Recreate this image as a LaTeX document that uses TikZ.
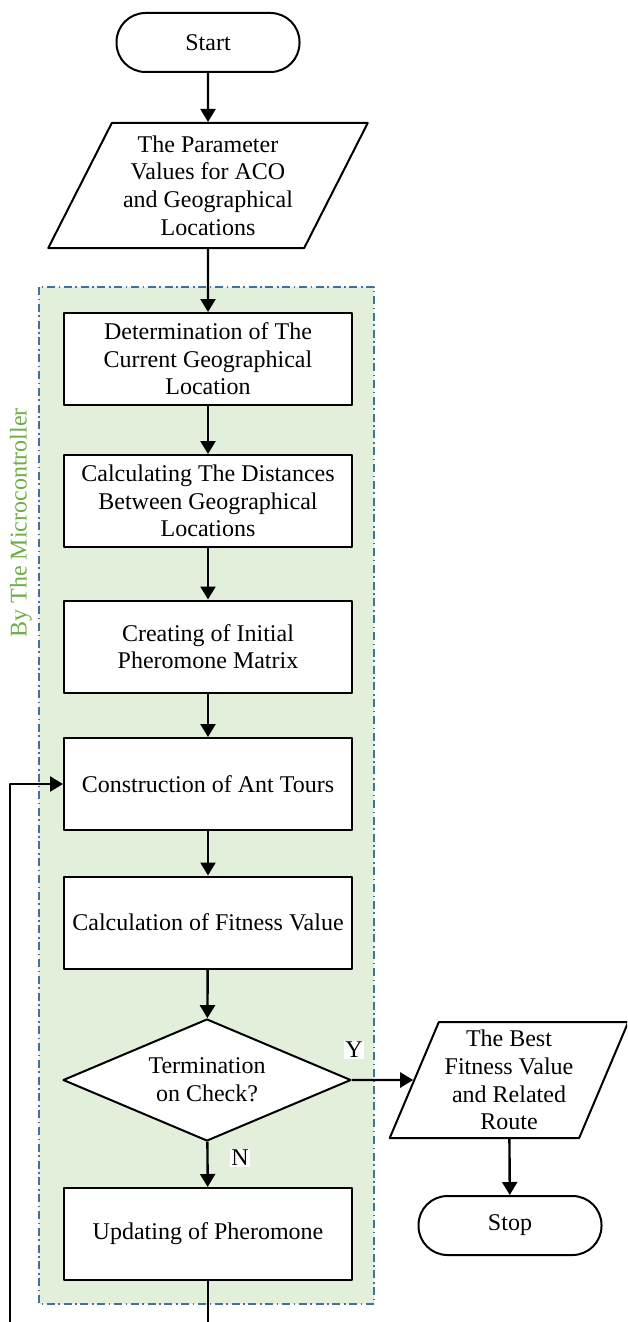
\documentclass[tikz,border=0pt]{standalone}
\usepackage{fontspec}
\setmainfont{Liberation Serif}
\usetikzlibrary{shapes.geometric,arrows.meta}
\definecolor{regionfill}{HTML}{E2EFDA}
\definecolor{regionline}{HTML}{41719C}
\definecolor{labelgreen}{HTML}{70AD47}
\begin{document}
\begin{tikzpicture}[x=0.5pt, y=-0.5pt, font=\fontsize{12}{13.8}\selectfont, line join=round, >={Triangle[length=6.5pt,width=7.5pt]},
	process/.style={draw, line width=1pt, fill=white, minimum width=144pt, minimum height=46pt, align=center, inner sep=2pt},
	terminal/.style={draw, line width=1pt, fill=white, rounded corners=14.5pt, minimum width=91.5pt, minimum height=29.5pt},
	io/.style={draw, line width=1pt, fill=white, trapezium, trapezium left angle=63, trapezium right angle=117, align=center, inner ysep=1pt},
	decision/.style={draw, line width=1pt, fill=white, diamond, shape aspect=2.36, minimum width=144pt, minimum height=61pt, align=center, inner sep=0pt},
	region/.style={fill=regionfill, draw=regionline, line width=0.7pt, dash pattern=on 4pt off 1.8pt on 0.8pt off 1.8pt},
	flow/.style={->, line width=1.2pt},
	answer/.style={fill=white, inner sep=0.5pt}]
	% Khung trang
	\useasboundingbox (0,0) rectangle (627,1322);
	\clip (0,0) rectangle (627,1322);
	% Vùng vi điều khiển
	\draw[region] (39,287) rectangle (374,1304);
	\node[text=labelgreen, rotate=90] (side) at (21,523) {By The Microcontroller};
	% Các khối của lưu đồ
	\node[terminal] (start) at (208,42.5) {Start};
	\node[io, inner xsep=-2.5pt, minimum height=62.5pt] (param) at (208,185.5) {The Parameter\\Values for ACO\\and Geographical\\Locations};
	\node[process] (locate) at (208,359) {Determination of The\\Current Geographical\\Location};
	\node[process] (dist) at (208,501) {Calculating The Distances\\Between Geographical\\Locations};
	\node[process] (matrix) at (208,646.5) {Creating of Initial\\Pheromone Matrix};
	\node[process] (tours) at (208,784) {Construction of Ant Tours};
	\node[process] (fitness) at (208,922.5) {Calculation of Fitness Value};
	\node[decision] (check) at (207,1080) {Termination\\on Check?};
	\node[process] (update) at (208,1234) {Updating of Pheromone};
	\node[io, trapezium left angle=67, trapezium right angle=113, inner xsep=-0.75pt, minimum height=58pt] (best) at (509,1080) {The Best\\Fitness Value\\and Related\\Route};
	\node[terminal] (stop) at (510,1225.5) {Stop};
	% Các mũi tên
	\draw[flow] (start) -- (param);
	\draw[flow] (param) -- (locate);
	\draw[flow] (locate) -- (dist);
	\draw[flow] (dist) -- (matrix);
	\draw[flow] (matrix) -- (tours);
	\draw[flow] (tours) -- (fitness);
	\draw[flow] (fitness) -- (check);
	\draw[flow] (check) -- (update);
	\draw[flow] (check) -- (best);
	\draw[flow] (best) -- (stop);
	% Vòng lặp quay về
	\coordinate (back) at (10,1360);
	\draw[flow] (update) |- (back) |- (tours);
	% Nhãn Y và N
	\node[answer] (yes) at (354,1050) {Y};
	\node[answer] (no) at (240,1158) {N};
\end{tikzpicture}
\end{document}
